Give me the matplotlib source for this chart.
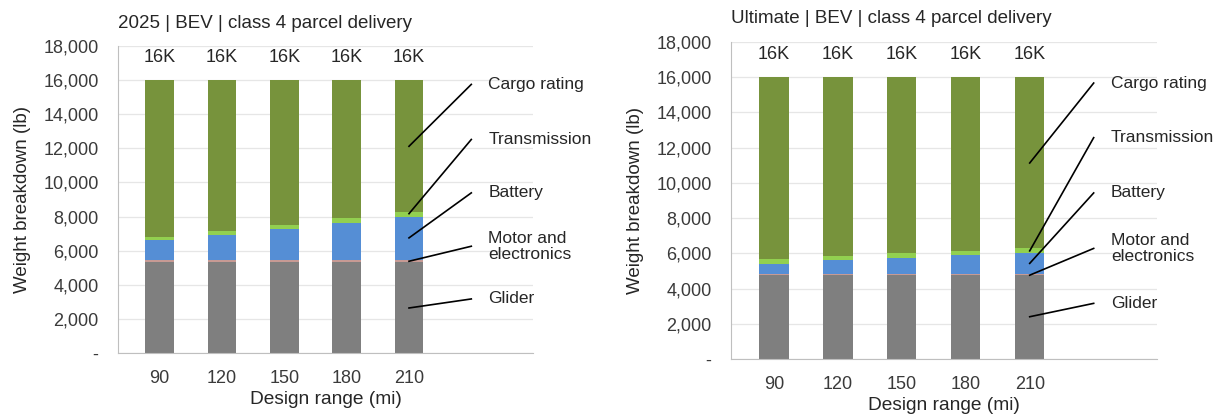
import matplotlib.pyplot as plt
import numpy as np

plt.rcParams['font.family'] = ['Liberation Sans', 'DejaVu Sans']

# design ranges (mi)
ranges = ["90", "120", "150", "180", "210"]

# 2025 weights (lb)
glider_2025 = [5350, 5350, 5350, 5350, 5350]
motor_2025 = [120, 120, 120, 120, 120]
battery_2025 = [1130, 1440, 1790, 2180, 2530]
trans_2025 = [230, 240, 260, 270, 290]
cargo_2025 = [9170, 8850, 8480, 8080, 7710]

# Ultimate weights (lb)
glider_ult = [4750, 4750, 4750, 4750, 4750]
motor_ult = [50, 50, 50, 50, 50]
battery_ult = [620, 800, 950, 1080, 1230]
trans_ult = [250, 250, 260, 260, 280]
cargo_ult = [10330, 10150, 9990, 9860, 9690]

totals_label = ["16K", "16K", "16K", "16K", "16K"]

components = ["Glider", "Motor and\nelectronics", "Battery", "Transmission", "Cargo rating"]
colors = ["#7f7f7f", "#c79a94", "#558ed5", "#92d050", "#77933c"]

# annotation line ends (bar point y, label y) per component, in lb
ann_2025 = [(2640, 3170), (5380, 6260), (6750, 9390), (8170, 12520), (12120, 15750)]
ann_ult = [(2400, 3160), (4760, 6280), (5430, 9430), (6140, 12570), (11130, 15670)]


def draw_panel(ax, series, ann, title, title_pad):
    x = np.arange(len(ranges))
    bottom = np.zeros(len(ranges))
    for vals, col in zip(series, colors):
        ax.bar(x, vals, width=0.46, bottom=bottom, color=col, zorder=2)
        bottom += np.array(vals)
    for xi, tot, lab in zip(x, bottom, totals_label):
        ax.text(xi, tot + 1300, lab, ha='center', va='center', fontsize=13,
                color='#262626')

    last = x[-1]
    for name, (y0, y1) in zip(components, ann):
        ax.plot([last, last + 1.0], [y0, y1], color='black', lw=1.2,
                clip_on=False, zorder=3)
        ax.text(last + 1.27, y1, name, ha='left', va='center', fontsize=12.5,
                clip_on=False, linespacing=1.1, color='#262626')

    ax.set_xlim(-0.67, 5.99)
    ax.set_ylim(0, 18000)
    ax.set_yticks(np.arange(0, 18001, 2000))
    ax.set_yticklabels(["-"] + [f"{v:,}" for v in range(2000, 18001, 2000)])
    ax.set_xticks(x)
    ax.set_xticklabels(ranges)
    ax.tick_params(axis='both', length=0, labelsize=13, colors='#3a3a3a')
    ax.tick_params(axis='y', pad=14)
    ax.tick_params(axis='x', pad=12)
    ax.grid(axis='y', color='#e6e6e6', lw=0.9, zorder=0)
    for s in ['top', 'right']:
        ax.spines[s].set_visible(False)
    ax.spines['left'].set_color('#bfbfbf')
    ax.spines['bottom'].set_color('#bfbfbf')
    ax.set_xlabel("Design range (mi)", fontsize=13.8, labelpad=3,
                  color='#262626')
    ax.set_ylabel("Weight breakdown (lb)", fontsize=13.5, color='#262626',
                  labelpad=9)
    ax.set_title(title, loc='left', fontsize=13.5, pad=title_pad,
                 color='#262626')


fig = plt.figure(figsize=(12.25, 4.16), dpi=100)
ax1 = fig.add_axes([0.0963, 0.1514, 0.3388, 0.738])
ax2 = fig.add_axes([0.5967, 0.137, 0.3478, 0.762])

draw_panel(ax1, [glider_2025, motor_2025, battery_2025, trans_2025, cargo_2025],
           ann_2025, "2025 | BEV | class 4 parcel delivery", 13)
draw_panel(ax2, [glider_ult, motor_ult, battery_ult, trans_ult, cargo_ult],
           ann_ult, "Ultimate | BEV | class 4 parcel delivery", 14)

fig.savefig("out.png", dpi=100)
